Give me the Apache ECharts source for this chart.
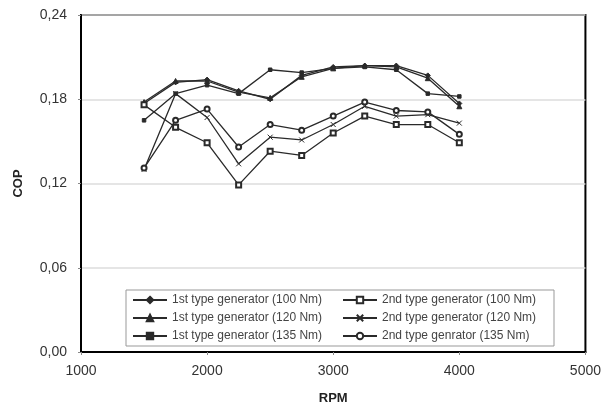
<!DOCTYPE html>
<html>
<head>
<meta charset="utf-8">
<script src="https://cdn.jsdelivr.net/npm/echarts@6/dist/echarts.min.js"></script>
<style>
html,body{margin:0;padding:0;background:#fff;}
#chart{width:604px;height:412px;}
</style>
</head>
<body>
<div id="chart"></div>
<script>
var rpm = [1500,1750,2000,2250,2500,2750,3000,3250,3500,3750,4000];
var names = ["1st type generator (100 Nm)","1st type generator (120 Nm)","1st type generator (135 Nm)",
             "2nd type generator (100 Nm)","2nd type generator (120 Nm)","2nd type genrator (135 Nm)"];
var first100 = [0.177,0.192,0.194,0.186,0.180,0.197,0.203,0.204,0.204,0.197,0.177];
var first120 = [0.178,0.193,0.193,0.185,0.181,0.196,0.202,0.204,0.203,0.195,0.175];
var first135 = [0.165,0.184,0.190,0.184,0.201,0.199,0.202,0.203,0.201,0.184,0.182];
var second100 = [0.176,0.160,0.149,0.119,0.143,0.140,0.156,0.168,0.162,0.162,0.149];
var second120 = [0.130,0.184,0.167,0.134,0.153,0.151,0.162,0.175,0.168,0.169,0.163];
var second135 = [0.131,0.165,0.173,0.146,0.162,0.158,0.168,0.178,0.172,0.171,0.155];
var yTicks = [0,0.06,0.12,0.18,0.24];

var allData = [first100,first120,first135,second100,second120,second135];
var symbols = ['diamond','triangle','rect','emptyRect','path://M0,0L10,10M10,0L0,10','emptyCircle'];
var sizes = [5,5,3.5,5,5,5];

var pairUp = function(vals){
    return vals.map(function(v,i){ return [rpm[i], v]; });
};

var series = [];
for(var i=0;i<names.length;i++){
    series.push({
        name: names[i],
        type: 'line',
        data: pairUp(allData[i]),
        symbol: symbols[i],
        symbolSize: sizes[i],
        showAllSymbol: true,
        lineStyle: {color:'#2a2a2a', width:1.3},
        itemStyle: {color:'#2a2a2a', borderColor:'#2a2a2a', borderWidth:1},
        emphasis: {disabled:true},
        animation: false
    });
}

var myChart = echarts.init(document.getElementById('chart'));
myChart.setOption({
    animation: false,
    textStyle: {fontFamily:'Liberation Sans'},
    grid: {
        left: 81, right: 18, top: 15, bottom: 60,
        show: true, borderColor:'#000', borderWidth:2
    },
    legend: {
        data: names,
        orient: 'vertical',
        left: 126,
        top: 290,
        height: 50,
        padding: [3,6,3,6],
        itemGap: 4,
        itemWidth: 34,
        itemHeight: 8,
        borderColor: '#999',
        borderWidth: 1,
        backgroundColor: '#fff',
        textStyle: {fontSize:12, color:'#444', width:166, lineHeight:14, fontFamily:'Liberation Sans'}
    },
    xAxis: {
        type: 'value',
        min: 1000, max: 5000, interval: 1000,
        name: 'RPM',
        nameLocation: 'middle',
        nameGap: 40,
        nameTextStyle: {fontWeight:'bold', fontSize:13, color:'#222'},
        axisLine: {show:true, lineStyle:{color:'#000', width:2}},
        axisTick: {show:true, length:3, lineStyle:{color:'#888'}},
        axisLabel: {fontSize:14, color:'#333', margin:12, formatter: function(v){ return String(v); }},
        splitLine: {show:false}
    },
    yAxis: {
        type: 'value',
        min: 0, max: 0.24, interval: 0.06,
        name: 'COP',
        nameLocation: 'middle',
        nameGap: 56,
        nameTextStyle: {fontWeight:'bold', fontSize:13, color:'#222'},
        axisLine: {show:true, lineStyle:{color:'#000', width:2}},
        axisTick: {show:true, length:3, lineStyle:{color:'#888'}},
        axisLabel: {
            fontSize:14, color:'#333', margin:14,
            formatter: function(v){ return v.toFixed(2).replace('.', ','); }
        },
        splitLine: {show:true, lineStyle:{color:'#dcdcdc', width:1.5}}
    },
    series: series
});
</script>
</body>
</html>
